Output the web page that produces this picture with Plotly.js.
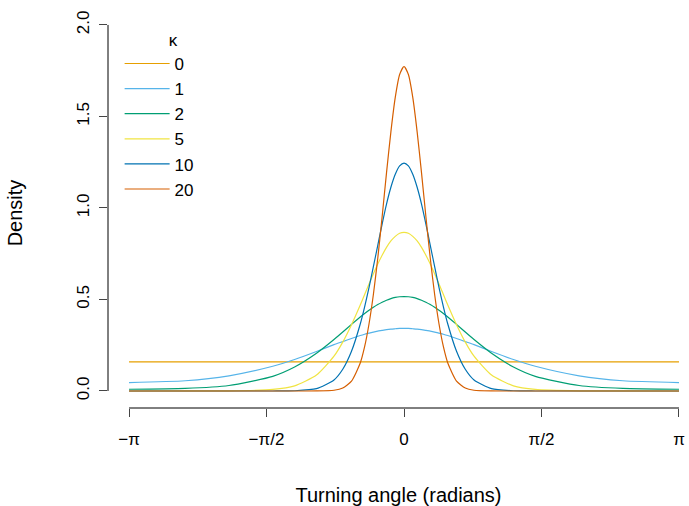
<!DOCTYPE html>
<html><head><script src="https://cdn.plot.ly/plotly-3.0.1.min.js"></script>
<style>body{margin:0}</style></head><body><div id="g"></div><script>
const xHalf=[0,0.05,0.1,0.15,0.2,0.25,0.3,0.35,0.4,0.45,0.5,0.6,0.7,0.8,1.0,1.25,1.5,2.0,2.5,Math.PI];
const kappas=["0","1","2","5","10","20"];
const colors=["#E69F00","#56B4E9","#009E73","#F0E442","#0072B2","#D55E00"];
const dens0=[0.159,0.159,0.159,0.159,0.159,0.159,0.159,0.159,0.159,0.159,0.159,0.159,0.159,0.159,0.159,0.159,0.159,0.159,0.159,0.159];
const dens1=[0.342,0.342,0.340,0.338,0.335,0.331,0.327,0.322,0.316,0.310,0.303,0.287,0.270,0.253,0.216,0.172,0.135,0.083,0.056,0.046];
const dens2=[0.516,0.515,0.511,0.505,0.496,0.485,0.472,0.457,0.441,0.423,0.404,0.364,0.322,0.281,0.206,0.131,0.080,0.030,0.014,0.0094];
const dens5=[0.867,0.862,0.845,0.820,0.785,0.742,0.694,0.640,0.584,0.527,0.470,0.362,0.267,0.190,0.087,0.028,0.0083,0.0007,0.0001,0];
const dens10=[1.245,1.230,1.184,1.113,1.021,0.912,0.796,0.679,0.565,0.460,0.366,0.217,0.1185,0.060,0.0126,0.0013,0,0,0,0];
const dens20=[1.773,1.729,1.604,1.416,1.192,0.952,0.725,0.527,0.366,0.242,0.153,0.054,0.016,0.0041,0.0002,0,0,0,0,0];
const all=[dens0,dens1,dens2,dens5,dens10,dens20];
const xs=xHalf.slice(1).reverse().map(v=>-v).concat(xHalf);
const traces=all.map((d,i)=>({x:xs,y:d.slice(1).reverse().concat(d),mode:'lines',name:kappas[i],
 line:{color:colors[i],width:1.2,shape:'spline',smoothing:0.6}}));
const P=Math.PI;
Plotly.newPlot('g',traces,{
 width:689,height:506,margin:{l:108,r:0,t:18,b:98},plot_bgcolor:'white',paper_bgcolor:'white',
 font:{family:'Liberation Sans, Arial',size:17,color:'black'},
 xaxis:{range:[-3.382,3.256],showgrid:false,zeroline:false,ticks:'outside',ticklen:8,ticklabelstandoff:8,
  tickvals:[-P,-P/2,0,P/2,P],ticktext:['−π','−π/2','0','π/2','π'],
  title:{text:'Turning angle (radians)',standoff:40}},
 yaxis:{range:[-0.093,2.038],showgrid:false,zeroline:false,ticks:'outside',ticklen:8,ticklabelstandoff:3,
  tickvals:[0,0.5,1,1.5,2],ticktext:['0.0','0.5','1.0','1.5','2.0'],tickangle:-90,
  title:{text:'Density',standoff:46}},
 shapes:[{type:'line',xref:'x',yref:'paper',x0:-P,x1:P,y0:0,y1:0,line:{width:1,color:'black'}},
  {type:'line',xref:'paper',yref:'y',x0:0,x1:0,y0:0,y1:2,line:{width:1,color:'black'}}],
 legend:{x:0.02,y:0.985,xanchor:'left',yanchor:'top',bgcolor:'rgba(0,0,0,0)',itemwidth:45,
  title:{text:'          κ',font:{size:17}},font:{size:17},tracegroupgap:0}
},{displayModeBar:false});
</script></body></html>
